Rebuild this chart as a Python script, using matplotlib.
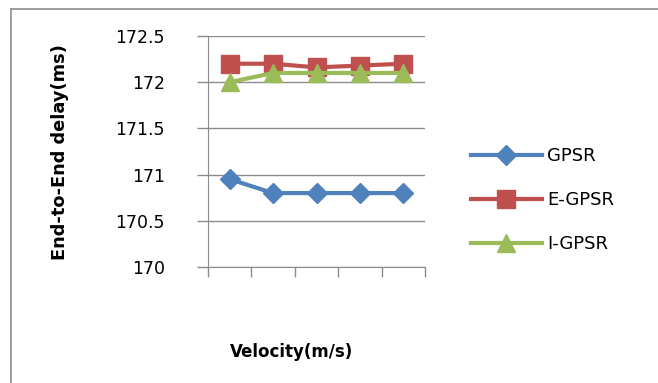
import matplotlib.pyplot as plt
from matplotlib.lines import Line2D

plt.rcParams['font.family'] = ['DejaVu Sans']

# end-to-end delay for each velocity step (5 categories, unlabeled)
categories = [1, 2, 3, 4, 5]
gpsr = [170.95, 170.8, 170.8, 170.8, 170.8]
e_gpsr = [172.2, 172.2, 172.16, 172.18, 172.2]
i_gpsr = [172.0, 172.1, 172.1, 172.1, 172.1]
y_ticks = [170, 170.5, 171, 171.5, 172, 172.5]
y_tick_labels = ['170', '170.5', '171', '171.5', '172', '172.5']

W, H = 658, 383
fig = plt.figure(figsize=(W / 100, H / 100), dpi=100)

# chart frame: only the left and top edges fall inside the image
frame_x = 10.5 / W
frame_y = 1 - 8.5 / H
fig.add_artist(Line2D([frame_x, frame_x], [0, frame_y], transform=fig.transFigure,
                      color='#8c8c8c', linewidth=1.2))
fig.add_artist(Line2D([frame_x, 1], [frame_y, frame_y], transform=fig.transFigure,
                      color='#8c8c8c', linewidth=1.2))

ax = fig.add_axes([208 / W, 1 - 267 / H, 217 / W, 231 / H])

ax.plot(categories, gpsr, color='#4F81BD', marker='D', markersize=10, linewidth=3, label='GPSR')
ax.plot(categories, e_gpsr, color='#C0504D', marker='s', markersize=13, linewidth=3, label='E-GPSR')
ax.plot(categories, i_gpsr, color='#9BBB59', marker='^', markersize=13, linewidth=3, label='I-GPSR')

ax.set_xlim(0.5, 5.5)
ax.set_ylim(170, 172.5)
ax.set_yticks(y_ticks)
ax.set_yticklabels(y_tick_labels, fontsize=12.5)
ax.set_xticks([0.5, 1.5, 2.5, 3.5, 4.5, 5.5])
ax.set_xticklabels([])
ax.grid(axis='y', color='#8c8c8c', linewidth=1)
ax.set_axisbelow(True)
for side in ['top', 'right']:
    ax.spines[side].set_visible(False)
for side in ['left', 'bottom']:
    ax.spines[side].set_color('#8c8c8c')
ax.tick_params(axis='both', color='#8c8c8c', width=1, direction='out')
ax.tick_params(axis='y', length=8, pad=23)
ax.tick_params(axis='x', length=7.5)

fig.text(60 / W, 1 - 152 / H, 'End-to-End delay(ms)', rotation=90, fontsize=12.8,
         fontweight='bold', ha='center', va='center')
fig.text(292 / W, 1 - 352 / H, 'Velocity(m/s)', fontsize=12,
         fontweight='bold', ha='center', va='center')

fig.legend(loc='center left', bbox_to_anchor=(455 / W, 1 - 200 / H), frameon=False,
           fontsize=13, handlelength=3.9, labelspacing=1.45, handletextpad=0.3)

fig.savefig('out.png', dpi=100)
